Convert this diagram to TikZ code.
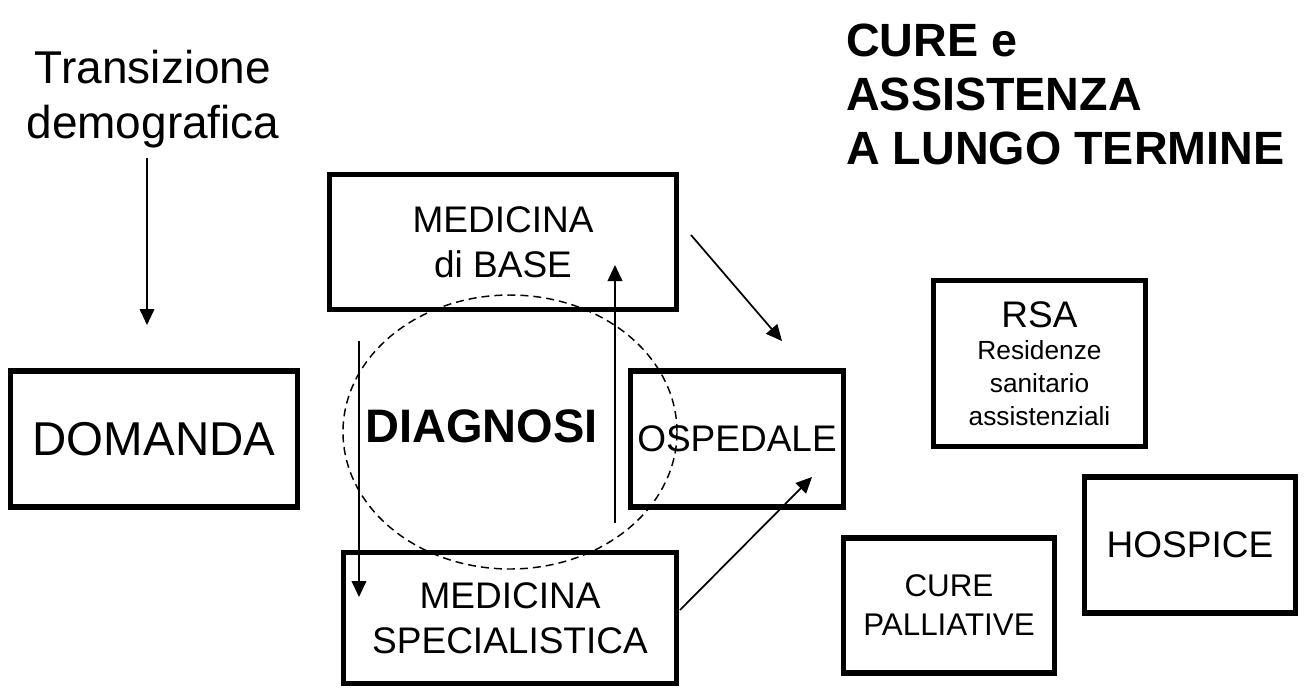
\documentclass[tikz,border=0pt]{standalone}
\usepackage{fontspec}
\setmainfont{Liberation Sans}
\usetikzlibrary{arrows.meta}
\begin{document}
\begin{tikzpicture}[x=0.75pt,y=-0.75pt,
  box/.style={draw, line width=4pt, rectangle, inner sep=0pt, align=center},
  wh/.style 2 args={minimum width=#1*0.75pt, minimum height=#2*0.75pt},
  link/.style={line width=1.3pt, -{Triangle[length=12pt,width=11pt]}},
  ring/.style={line width=1.1pt, dash pattern=on 6pt off 3.75pt},
  bigtext/.style={font=\fontsize{35.6}{42}\selectfont},
  midtext/.style={font=\fontsize{27.75}{33.75}\selectfont},
  smalltext/.style={font=\fontsize{23.5}{29.25}\selectfont},
  plain/.style={inner sep=0pt, align=center},
]
\useasboundingbox (0,0) rectangle (1306,687);

% free-standing labels
\node[plain, anchor=north, font=\fontsize{34.5}{41.25}\selectfont] (trans) at (153,50) {Transizione\\demografica};
\node[plain, anchor=north west, align=left, font=\bfseries\fontsize{35}{40.5}\selectfont] (title) at (846,24) {CURE e\\ASSISTENZA\\A LUNGO TERMINE};

% boxes
\node[box, bigtext, wh={287.5}{136}] (domanda) at (154,439) {DOMANDA};
\node[box, midtext, wh={347.5}{135.5}] (base) at (503,242) {MEDICINA\\di BASE};
\node[box, midtext, wh={212.5}{136}] (osp) at (737,439) {OSPEDALE};
\node[box, midtext, wh={333}{130.5}] (spec) at (510,618) {MEDICINA\\SPECIALISTICA};
\node[box, font=\fontsize{19.7}{24.5}\selectfont, wh={212}{166}] (rsa) at (1039.5,363.5)
  {{\fontsize{27.75}{33}\selectfont RSA}\\Residenze\\sanitario\\assistenziali};
\node[box, midtext, wh={211.5}{136}] (hospice) at (1190,545) {HOSPICE};
\node[box, smalltext, wh={211.5}{135}] (pall) at (949,605.5) {CURE\\PALLIATIVE};

% diagnosis area
\node[plain, font=\bfseries\fontsize{35.25}{40}\selectfont] (diag) at (481.5,426.5) {DIAGNOSI};
\draw[ring] (510,432) ellipse [x radius=125.25pt, y radius=102.75pt];

% arrow end points
\coordinate (t1) at (147,158);
\coordinate (t2) at (147,325);
\coordinate (b1) at (691,235);
\coordinate (o1) at (782,341);
\coordinate (u1) at (615,523);
\coordinate (u2) at (615,265);
\coordinate (d1) at (359,341);
\coordinate (d2) at (359,597);
\coordinate (s1) at (680,610);
\coordinate (o2) at (812,477);

\draw[link] (t1) -- (t2);
\draw[link] (b1) -- (o1);
\draw[link] (u1) -- (u2);
\draw[link] (d1) -- (d2);
\draw[link] (s1) -- (o2);
\end{tikzpicture}
\end{document}
